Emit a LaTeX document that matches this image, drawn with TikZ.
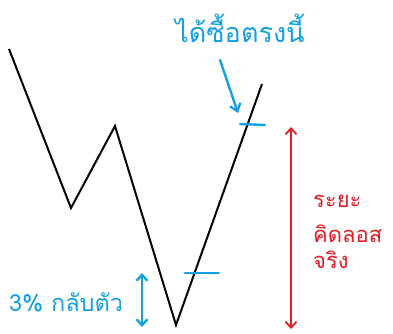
\documentclass[tikz,border=0pt]{standalone}
\usepackage{fontspec}
\newfontfamily\thaifont[Script=Thai]{Loma}
\usetikzlibrary{arrows.meta}
\definecolor{penblue}{RGB}{20,160,225}
\definecolor{penred}{RGB}{225,30,40}
\tikzset{
  price/.style={draw=black, line width=2pt, line join=miter},
  bluepen/.style={draw=penblue, line width=2.4pt, line cap=round},
  redpen/.style={draw=penred, line width=1.8pt, line cap=round},
  bluetext/.style={text=penblue, font=\thaifont\fontsize{27}{30}\selectfont, inner sep=0pt},
  redtext/.style={text=penred, font=\thaifont\fontsize{22}{26}\selectfont, inner sep=0pt, anchor=base west},
  barb/.style={-{Straight Barb[length=7pt,width=11pt]}},
  dbarb/.style={{Straight Barb[length=6pt,width=11pt]}-{Straight Barb[length=6pt,width=11pt]}}
}
\begin{document}
\begin{tikzpicture}[x=1pt,y=-1pt]
\useasboundingbox (0,0) rectangle (393,333);
% price path
\coordinate (p0) at (9,49);
\coordinate (p1) at (71,208);
\coordinate (p2) at (115,126);
\coordinate (p3) at (176,325);
\coordinate (p4) at (262,84);
\draw[price] (p0) -- (p1) -- (p2) -- (p3) -- (p4);
% blue marks
\coordinate (b1a) at (185,273);
\coordinate (b1b) at (219,273);
\draw[bluepen] (b1a) -- (b1b);
\coordinate (b2a) at (240,124);
\coordinate (b2b) at (265,125);
\draw[bluepen] (b2a) -- (b2b);
% top label and arrow
\node[bluetext, anchor=base] (buy) at (240,42) {ได้ซื้อตรงนี้};
\coordinate (arrS) at (220,60);
\coordinate (arrE) at (238,113);
\draw[bluepen, barb] (arrS) -- (arrE);
% bottom label and double arrow
\coordinate (dA) at (142,273);
\coordinate (dB) at (142,327);
\draw[bluepen, dbarb] (dA) -- (dB);
\node[bluetext, font=\thaifont\fontsize{23.5}{26}\selectfont, anchor=base west] (rev) at (9,311) {3\% กลับตัว};
% red arrow and label
\coordinate (rA) at (291,127);
\coordinate (rB) at (291,329);
\draw[redpen, dbarb] (rA) -- (rB);
\node[redtext] (l1) at (313,207) {ระยะ};
\node[redtext] (l2) at (313,242) {คิดลอส};
\node[redtext] (l3) at (313,268) {จริง};
\end{tikzpicture}
\end{document}
